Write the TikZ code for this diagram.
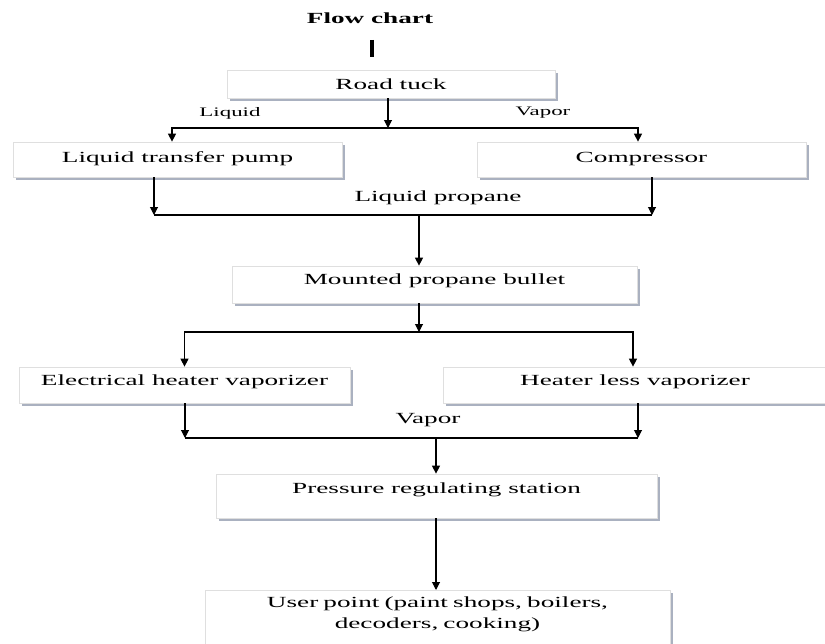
\documentclass[tikz,border=0pt]{standalone}
\usepackage{fontspec}
\setmainfont{Liberation Serif}[FakeStretch=1.76]
\usetikzlibrary{arrows.meta,shadows}
\definecolor{shadowgray}{RGB}{170,177,192}

\begin{document}
\begin{tikzpicture}[x=0.02cm, y=-0.02cm,
    every node/.style={font=\fontsize{8.8}{11.9}\selectfont},
    box/.style={draw=gray!25, fill=white, shape=rectangle, inner sep=0pt,
      text height=6pt, text depth=#1,
      drop shadow={shadow xshift=1.7pt, shadow yshift=-1.7pt, fill=shadowgray, opacity=1}},
    small/.style={font=\fontsize{7.4}{9}\selectfont},
    arr/.style={line width=0.6pt, -{Triangle[length=4.5pt,width=4.5pt]}}]

  \useasboundingbox (0,0) rectangle (825,644);

  % Title
  \node[font=\fontsize{8.8}{11}\selectfont\bfseries] (t) at (370,18) {Flow chart};
  \draw[line width=1.8pt] (372,40) -- (372,57);

  % Boxes
  \node[box=0pt, minimum width=6.56cm, minimum height=0.56cm] (n0) at (391,84) {Road tuck};
  \node[box=2.8pt, minimum width=6.58cm, minimum height=0.70cm] (n1) at (177.5,159.5) {Liquid transfer pump};
  \node[box=2.8pt, minimum width=6.58cm, minimum height=0.70cm] (n2) at (641.5,159.5) {Compressor};
  \node[box=6.2pt, minimum width=8.1cm, minimum height=0.74cm] (n3) at (434.5,284.5) {Mounted propane bullet};
  \node[box=5.7pt, minimum width=6.62cm, minimum height=0.72cm] (n4) at (184.5,385) {Electrical heater vaporizer};
  \node[box=5.7pt, minimum width=7.68cm, minimum height=0.72cm] (n5) at (635,385) {Heater less vaporizer};
  \node[box=9pt, minimum width=8.82cm, minimum height=0.88cm] (n6) at (436.5,496) {Pressure regulating station};
  \node[box=21.9pt, minimum width=9.3cm, minimum height=1.24cm, text width=9cm, align=center,
    anchor=north] (n7) at (437.5,590) {User point (paint shops, boilers,\\ decoders, cooking)};

  % Labels
  \node[small] (liq) at (230,113) {Liquid};
  \node[small] (vap) at (543,113) {Vapor};
  \node (lp) at (438,198) {Liquid propane};
  \node (vp) at (428,420) {Vapor};

  % Junctions
  \coordinate (j1) at (388,128);
  \coordinate (l2) at (154,215);
  \coordinate (r2) at (652,215);
  \coordinate (j2) at (419,215);
  \coordinate (j3) at (419,332);
  \coordinate (l4) at (185,438);
  \coordinate (r4) at (638,438);
  \coordinate (j4) at (436,438);

  % Road tuck to pump and compressor
  \draw[arr] (n0.south -| j1) -- (j1);
  \draw[arr] (j1) -| ([xshift=-0.11cm]n1.north);
  \draw[arr] (j1) -| ([xshift=-0.07cm]n2.north);

  % Liquid propane
  \draw[arr] (n1.south -| l2) -- (l2);
  \draw[arr] (n2.south -| r2) -- (r2);
  \draw[line width=0.6pt] (l2) -- (r2);
  \draw[arr] (j2) -- (n3.north -| j2);

  % Vaporizers
  \draw[arr] (n3.south -| j3) -- (j3);
  \draw[arr] (j3) -| (n4.north);
  \draw[arr] (j3) -| ([xshift=-0.04cm]n5.north);

  % Vapor
  \draw[arr] (n4.south -| l4) -- (l4);
  \draw[arr] (n5.south -| r4) -- (r4);
  \draw[line width=0.6pt] (l4) -- (r4);
  \draw[arr] (j4) -- (n6.north -| j4);
  \draw[arr] (n6.south -| j4) -- (n7.north -| j4);

\end{tikzpicture}
\end{document}
